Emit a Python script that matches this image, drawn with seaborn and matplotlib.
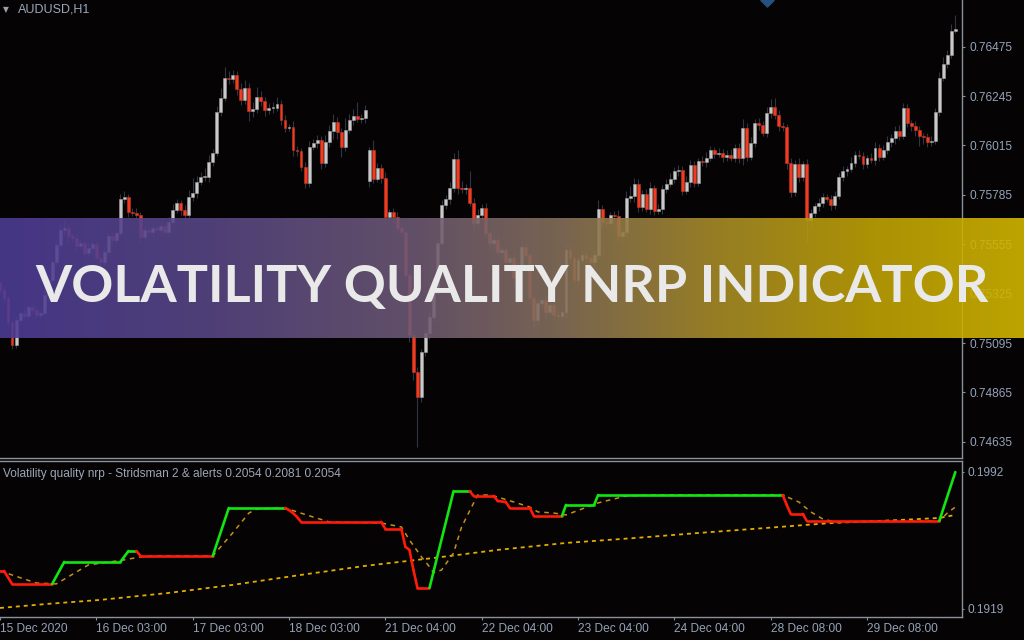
import numpy as np
import pandas as pd
import matplotlib
matplotlib.use('Agg')
import matplotlib.pyplot as plt
import seaborn as sns
from matplotlib.colors import LinearSegmentedColormap

# AUDUSD H1 candles, prices in points (1e-5)
first_open = 75374
gap_opens = {92: 75849}  # weekend gap
closes = [
    75342, 75305, 75193, 75086, 75202, 75235, 75221, 75263, 75249, 75225,
    75235, 75319, 75388, 75472, 75551, 75621, 75630, 75593, 75584, 75547,
    75561, 75514, 75537, 75556, 75491, 75472, 75519, 75593, 75575, 75607,
    75765, 75775, 75705, 75700, 75691, 75588, 75621, 75612, 75630, 75621,
    75640, 75612, 75658, 75714, 75747, 75714, 75691, 75775, 75793, 75845,
    75868, 75868, 75938, 75980, 76171, 76236, 76329, 76324, 76343, 76278,
    76226, 76282, 76175, 76185, 76240, 76222, 76180, 76189, 76189, 76208,
    76133, 76096, 76101, 75994, 75989, 75914, 75840, 76008, 76026, 76040,
    75933, 76031, 76082, 76124, 76077, 76008, 76087, 76133, 76152, 76138,
    76143, 76180, 75994, 75859, 75910, 75863, 75682, 75705, 75682, 75630,
    75612, 75412, 75132, 74960, 74844, 75053, 75142, 75216, 75328, 75561,
    75737, 75765, 75817, 75952, 75817, 75812, 75817, 75747, 75654, 75691,
    75724, 75607, 75561, 75575, 75519, 75528, 75472, 75491, 75398, 75458,
    75542, 75505, 75305, 75202, 75281, 75295, 75239, 75272, 75225, 75221,
    75239, 75528, 75491, 75388, 75481, 75505, 75491, 75472, 75505, 75719,
    75658, 75654, 75691, 75686, 75593, 75612, 75770, 75779, 75835, 75728,
    75789, 75719, 75817, 75710, 75719, 75812, 75835, 75859, 75896, 75900,
    75803, 75845, 75924, 75840, 75942, 75938, 75956, 75994, 75975, 75980,
    75961, 75970, 75956, 76003, 75956, 76096, 75961, 76026, 76119, 76110,
    76073, 76166, 76194, 76157, 76105, 76101, 75933, 75798, 75928, 75868,
    75928, 75668, 75700, 75733, 75747, 75775, 75765, 75737, 75779, 75868,
    75896, 75905, 75933, 75970, 75966, 75928, 75956, 75947, 76003, 75961,
    75994, 76031, 76049, 76082, 76059, 76189, 76119, 76105, 76087, 76059,
    76054, 76031, 76035, 76171, 76329, 76394, 76436, 76548, 76557,
]
wick_up = [
    10, 14, 9, 14, 19, 14, 23, 9, 14, 19, 14, 23, 19, 14, 23, 28, 33, 19, 14, 23,
    19, 14, 28, 19, 14, 19, 23, 14, 19, 14, 23, 28, 14, 19, 23, 14, 19, 9, 23, 14,
    19, 14, 23, 28, 19, 14, 23, 33, 70, 28, 23, 42, 33, 19, 28, 47, 51, 33, 23, 19,
    28, 37, 23, 33, 47, 28, 19, 23, 28, 33, 19, 23, 14, 28, 19, 14, 23, 28, 19, 23,
    19, 33, 28, 37, 23, 19, 56, 28, 33, 65, 19, 23, 14, 47, 23, 19, 28, 14, 19, 23,
    19, 28, 14, 19, 23, 14, 19, 23, 14, 19, 23, 19, 28, 28, 42, 33, 19, 79, 23, 28,
    19, 23, 14, 28, 19, 14, 23, 19, 28, 14, 23, 19, 14, 19, 23, 14, 19, 14, 23, 19,
    14, 23, 28, 14, 19, 23, 14, 19, 23, 42, 19, 23, 14, 19, 28, 23, 33, 47, 28, 23,
    19, 23, 28, 14, 23, 19, 23, 28, 19, 23, 19, 28, 23, 19, 14, 23, 28, 19, 14, 23,
    19, 23, 28, 19, 23, 42, 23, 28, 19, 23, 19, 28, 37, 42, 23, 19, 14, 23, 19, 28,
    14, 23, 19, 14, 23, 19, 14, 19, 23, 19, 23, 14, 28, 19, 23, 19, 14, 23, 28, 19,
    23, 28, 19, 23, 28, 23, 19, 14, 23, 19, 14, 19, 23, 19, 28, 33, 23, 33, 65,
]
wick_dn = [
    14, 19, 23, 19, 14, 19, 14, 23, 19, 14, 19, 14, 23, 19, 14, 19, 23, 28, 19, 23,
    14, 23, 19, 28, 14, 23, 19, 14, 23, 19, 14, 19, 23, 14, 19, 28, 14, 19, 23, 14,
    19, 14, 23, 19, 14, 23, 19, 14, 19, 23, 14, 19, 23, 19, 14, 19, 14, 23, 19, 28,
    23, 19, 47, 28, 19, 23, 28, 19, 23, 14, 23, 19, 14, 28, 23, 19, 23, 19, 14, 23,
    28, 19, 23, 37, 33, 47, 19, 14, 23, 14, 19, 23, 28, 19, 14, 23, 28, 19, 23, 28,
    23, 28, 33, 37, 233, 23, 19, 28, 23, 19, 14, 19, 23, 19, 28, 19, 23, 14, 28, 19,
    23, 19, 28, 23, 19, 28, 23, 19, 37, 23, 19, 23, 28, 33, 19, 23, 28, 19, 23, 14,
    19, 28, 23, 19, 23, 14, 19, 28, 23, 19, 23, 19, 14, 23, 28, 19, 23, 19, 28, 23,
    19, 14, 23, 19, 14, 23, 19, 14, 19, 23, 19, 14, 23, 19, 14, 19, 23, 14, 19, 14,
    23, 19, 14, 19, 23, 33, 19, 14, 19, 23, 14, 19, 23, 19, 23, 19, 28, 23, 19, 23,
    19, 107, 42, 19, 23, 19, 14, 23, 19, 14, 19, 23, 14, 19, 14, 23, 19, 14, 23, 19,
    14, 19, 23, 28, 19, 14, 19, 23, 28, 47, 33, 23, 19, 14, 19, 14, 19, 14, 9,
]

price_ticks = [0.74635, 0.74865, 0.75095, 0.75325, 0.75555, 0.75785, 0.76015, 0.76245, 0.76475]
date_idx = [0, 24, 48, 72, 96, 120, 144, 168, 192, 216]
date_labels = ['15 Dec 2020', '16 Dec 03:00', '17 Dec 03:00', '18 Dec 03:00', '21 Dec 04:00',
               '22 Dec 04:00', '23 Dec 04:00', '24 Dec 04:00', '28 Dec 08:00', '29 Dec 08:00']

# Volatility quality nrp (breakpoints of the main line)
vq_idx = [0, 1, 3, 13, 16, 30, 32, 34, 35, 53, 57, 71, 72, 73, 74, 75, 95, 96, 100, 101,
          102, 103, 104, 107, 113, 117, 118, 123, 124, 126, 127, 132, 133, 140, 141, 148,
          149, 195, 196, 197, 200, 201, 234, 238]
vq_val = [0.19392, 0.19392, 0.19323, 0.19323, 0.19440, 0.19440, 0.19498, 0.19498, 0.19472, 0.19472,
          0.19727, 0.19727, 0.19716, 0.19700, 0.19679, 0.19653, 0.19653, 0.19615, 0.19615, 0.19520,
          0.19504, 0.19397, 0.19302, 0.19302, 0.19817, 0.19817,
          0.19791, 0.19791, 0.19764, 0.19759, 0.19727, 0.19727, 0.19684, 0.19684, 0.19743, 0.19743,
          0.19796, 0.19796, 0.19743, 0.19695, 0.19695, 0.19658, 0.19658, 0.19918]
fast_idx = [0, 9, 14, 22, 31, 35, 39, 53, 58, 62, 64, 71, 78, 82, 95, 100, 102, 105, 107, 108,
            110, 113, 115, 118, 119, 122, 124, 128, 132, 134, 138, 141, 145, 149, 152, 156, 162, 195, 199, 202,
            205, 208, 234, 236, 238]
fast_val = [0.19392, 0.19328, 0.19323, 0.19424, 0.19451, 0.19467, 0.19472, 0.19472, 0.19595, 0.19700,
            0.19722, 0.19727, 0.19679, 0.19653, 0.19647, 0.19626, 0.19557, 0.19467, 0.19414, 0.19382,
            0.19397, 0.19488, 0.19626, 0.19754, 0.19796, 0.19796, 0.19785, 0.19759, 0.19732, 0.19706,
            0.19700, 0.19690, 0.19722, 0.19754, 0.19770, 0.19791, 0.19796, 0.19796, 0.19759, 0.19706,
            0.19668, 0.19653, 0.19658, 0.19700, 0.19732]
slow_idx = [0, 12, 25, 42, 58, 75, 91, 108, 124, 141, 158, 174, 191, 207, 224, 234, 238]
slow_val = [0.19195, 0.19217, 0.19238, 0.19275, 0.19318, 0.19371, 0.19419, 0.19461, 0.19504,
            0.19541, 0.19567, 0.19594, 0.19621, 0.19647, 0.19663, 0.19674, 0.19690]

banner_stops = [0.0, 0.2, 0.4, 0.55, 0.7, 0.85, 1.0]
banner_cols = ['#4d3c95', '#574685', '#6c5874', '#86705a', '#a88c28', '#bfa205', '#d2b700']
banner_text = 'VOLATILITY QUALITY NRP INDICATOR'

bg = '#060304'
grid_col = '#8a909c'
lab_col = '#93a3b8'

sns.set_theme(style='dark', rc={'axes.facecolor': bg, 'figure.facecolor': bg})
plt.rcParams['font.family'] = ['Liberation Sans', 'DejaVu Sans']

# candle table
df = pd.DataFrame({'close': np.array(closes) / 1e5})
df['open'] = [first_open / 1e5] + list(df['close'][:-1])
for k, v in gap_opens.items():
    df.loc[k, 'open'] = v / 1e5
df['high'] = df[['open', 'close']].max(axis=1) + np.array(wick_up) / 1e5
df['low'] = df[['open', 'close']].min(axis=1) - np.array(wick_dn) / 1e5
df['i'] = np.arange(len(df))
bull = df['close'] >= df['open']

fig = plt.figure(figsize=(10.24, 6.4), dpi=100)
W, H = 1024, 640
xr = 962 / W
ax = fig.add_axes([0, 1 - 458 / H, xr, 458 / H])
ax2 = fig.add_axes([0, 1 - 617 / H, xr, 156 / H])

xmax = 962 / 4.014
ax.vlines(df['i'], df['low'], df['high'], color='#2e3644', lw=0.8, zorder=2)
body = (df['close'] - df['open']).abs().clip(lower=0.00004)
ax.bar(df['i'], body, bottom=df[['open', 'close']].min(axis=1), width=0.72,
       color=np.where(bull, '#c9c9c9', '#f23c22'),
       edgecolor=np.where(bull, '#9d9d9d', '#c83420'), linewidth=0.4, zorder=3)
ax.scatter([191], [0.76692], marker='D', s=45, color='#25507f', zorder=4, clip_on=True)
ax.set_xlim(0, xmax)
ax.set_ylim(0.74560, 0.76692)
ax.yaxis.tick_right()
ax.set_yticks(price_ticks)
ax.set_yticklabels([f'{p:.5f}' for p in price_ticks])
ax.set_xticks([])
ax.tick_params(axis='y', colors=grid_col, labelcolor=lab_col, labelsize=8.6,
               length=2.5, width=0.8, pad=2.6, right=True, left=False)
for s in ['top', 'left']:
    ax.spines[s].set_visible(False)
for s in ['right', 'bottom']:
    ax.spines[s].set_color(grid_col)
    ax.spines[s].set_linewidth(1.0)
ax.grid(False)

# indicator pane
sns.lineplot(x=slow_idx, y=slow_val, ax=ax2, color='#e3ad00', lw=1.3,
             linestyle=(0, (2.2, 2.2)), zorder=2)
sns.lineplot(x=fast_idx, y=fast_val, ax=ax2, color='#c4901c', lw=1.1,
             linestyle=(0, (3, 3)), zorder=2)
cols = []
state = '#ff1a0a'
for a, b in zip(vq_val[:-1], vq_val[1:]):
    if b > a:
        state = '#12e612'
    elif b < a:
        state = '#ff1a0a'
    cols.append(state)
for k in range(len(cols)):
    sns.lineplot(x=vq_idx[k:k + 2], y=vq_val[k:k + 2], ax=ax2, color=cols[k],
                 lw=1.9, zorder=3)
ax2.set_xlim(0, xmax)
ax2.set_ylim(0.19147, 0.19977)
ax2.yaxis.tick_right()
ax2.set_yticks([0.1992, 0.1919])
ax2.set_yticklabels(['0.1992', '0.1919'])
ax2.set_xticks(date_idx)
ax2.set_xticklabels(date_labels)
for lab in ax2.get_xticklabels():
    lab.set_ha('left')
ax2.tick_params(axis='both', colors=grid_col, labelcolor=lab_col, labelsize=8.6,
                length=2.5, width=0.8, bottom=True, right=True, left=False)
ax2.tick_params(axis='x', pad=2.0)
ax2.tick_params(axis='y', pad=2.6, length=1.5)
ax2.set_xlabel('')
ax2.set_ylabel('')
ax2.spines['left'].set_visible(False)
for s in ['top', 'right', 'bottom']:
    ax2.spines[s].set_color(grid_col)
    ax2.spines[s].set_linewidth(1.0)
ax2.grid(False)

fig.text(3 / W, 1 - 474 / H, 'Volatility quality nrp - Stridsman 2 & alerts 0.2054 0.2081 0.2054',
         color='#9ba6b6', fontsize=8.6, va='center', ha='left')
fig.text(3 / W, 1 - 10 / H, '\u25bc', color='#98a0ac', fontsize=5.5, va='center', ha='left',
         family='DejaVu Sans')
fig.text(18 / W, 1 - 10 / H, 'AUDUSD,H1', color='#9aa8bc', fontsize=9, va='center', ha='left')

# banner overlay
bax = fig.add_axes([0, 1 - 338 / H, 1, 120 / H])
cmap = LinearSegmentedColormap.from_list('banner', list(zip(banner_stops, banner_cols)))
grad = np.linspace(0, 1, 512)[None, :]
bax.imshow(grad, cmap=cmap, aspect='auto', extent=(0, 1, 0, 1), alpha=0.9)
bax.set_xlim(0, 1)
bax.set_ylim(0, 1)
bax.axis('off')
bax.text(0.5, 0.30, banner_text, color='#e9e9e9', fontsize=37.5, fontweight='bold',
         family=['Lato', 'DejaVu Sans'], ha='center', va='baseline')

fig.savefig('out.png', dpi=100, facecolor=bg)
